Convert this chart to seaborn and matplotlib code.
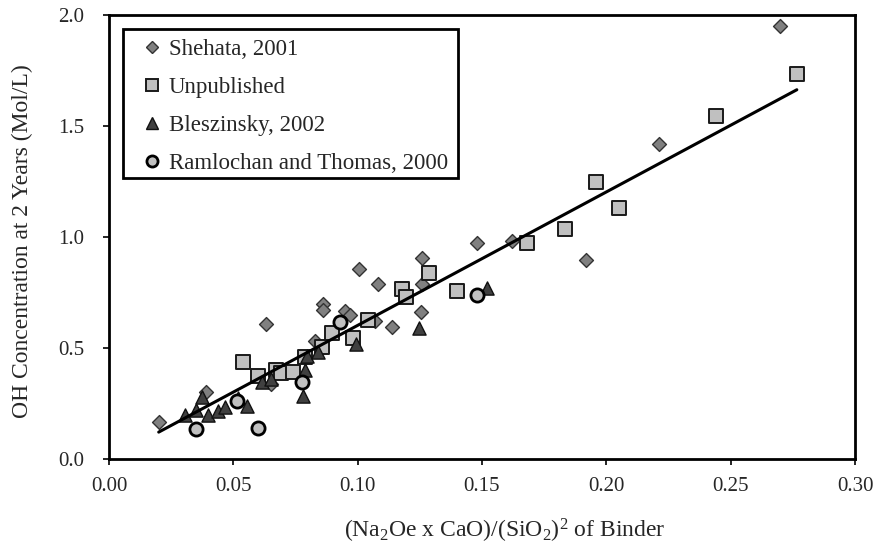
import numpy as np
import pandas as pd
import matplotlib
matplotlib.use("Agg")
import matplotlib.pyplot as plt
from matplotlib.patches import Rectangle
import seaborn as sns

# ---- data ----
shehata_x = [0.020, 0.039, 0.063, 0.065, 0.083, 0.086, 0.086, 0.095, 0.097, 0.1005,
             0.107, 0.108, 0.114, 0.1255, 0.126, 0.126, 0.148, 0.162, 0.192, 0.221, 0.270]
shehata_y = [0.167, 0.30, 0.61, 0.34, 0.53, 0.70, 0.67, 0.667, 0.65, 0.856,
             0.62, 0.79, 0.595, 0.66, 0.79, 0.905, 0.975, 0.98, 0.896, 1.419, 1.95]

unpub_x = [0.054, 0.060, 0.067, 0.069, 0.074, 0.079, 0.0857, 0.0897, 0.098, 0.104,
           0.118, 0.1195, 0.1287, 0.140, 0.168, 0.1833, 0.196, 0.205, 0.244, 0.2766]
unpub_y = [0.437, 0.374, 0.40, 0.387, 0.39, 0.46, 0.505, 0.568, 0.545, 0.626,
           0.766, 0.73, 0.838, 0.757, 0.973, 1.036, 1.248, 1.13, 1.545, 1.734]

blesz_x = [0.0306, 0.035, 0.0374, 0.040, 0.0438, 0.0466, 0.052, 0.0555, 0.0615, 0.065,
           0.078, 0.079, 0.0796, 0.084, 0.0993, 0.1247, 0.152]
blesz_y = [0.20, 0.22, 0.28, 0.198, 0.216, 0.234, 0.275, 0.24, 0.345, 0.36,
           0.285, 0.40, 0.465, 0.48, 0.52, 0.59, 0.77]

ramlo_x = [0.035, 0.0515, 0.060, 0.0776, 0.093, 0.148]
ramlo_y = [0.135, 0.26, 0.14, 0.347, 0.617, 0.739]

# linear trend line shown in the chart (y = slope * x + intercept)
fit_slope = 6.01
fit_intercept = 0.001

series_names = ["Shehata, 2001", "Unpublished", "Bleszinsky, 2002", "Ramlochan and Thomas, 2000"]
x_ticks = [0.00, 0.05, 0.10, 0.15, 0.20, 0.25, 0.30]
y_ticks = [0.0, 0.5, 1.0, 1.5, 2.0]

# ---- style ----
sns.set_theme(style="white")
plt.rcParams['font.family'] = ['Liberation Serif', 'DejaVu Serif']
plt.rcParams['mathtext.fontset'] = 'custom'
plt.rcParams['mathtext.rm'] = 'Liberation Serif'
plt.rcParams['mathtext.default'] = 'regular'

fig = plt.figure(figsize=(8.81, 5.46), dpi=100)
ax = fig.add_axes([0.1237, 0.1593, 0.9705 - 0.1237, 0.9725 - 0.1593])

styles = [
    dict(marker="D", s=50, color="#808080", edgecolor="#333333", linewidth=1.0),
    dict(marker="s", s=95, color="#c0c0c0", edgecolor="#1a1a1a", linewidth=1.4),
    dict(marker="^", s=90, color="#404040", edgecolor="#111111", linewidth=1.0),
    dict(marker="o", s=90, color="#c0c0c0", edgecolor="#000000", linewidth=2.0),
]
data = [(shehata_x, shehata_y), (unpub_x, unpub_y), (blesz_x, blesz_y), (ramlo_x, ramlo_y)]
leg_sizes = [6.0, 8.5, 8.5, 8.0]

handles = []
for name, (xs, ys), st, ms in zip(series_names, data, styles, leg_sizes):
    df = pd.DataFrame({"x": xs, "y": ys})
    sns.scatterplot(data=df, x="x", y="y", ax=ax, zorder=3, legend=False, **st)
    h = plt.Line2D([], [], linestyle="none", marker=st["marker"], markersize=ms,
                   markerfacecolor=st["color"], markeredgecolor=st["edgecolor"],
                   markeredgewidth=st["linewidth"])
    handles.append(h)

all_x = np.array(shehata_x + unpub_x + blesz_x + ramlo_x)
fit_x = np.array([all_x.min(), all_x.max()])
fit_df = pd.DataFrame({"x": fit_x, "y": fit_slope * fit_x + fit_intercept})
sns.lineplot(data=fit_df, x="x", y="y", ax=ax, color="black", linewidth=2.2, zorder=4)

ax.set_xlim(0, 0.30)
ax.set_ylim(0, 2.0)
ax.set_xticks(x_ticks)
ax.set_yticks(y_ticks)
ax.set_xticklabels([f"{v:.2f}" for v in x_ticks], fontsize=15)
ax.set_yticklabels([f"{v:.1f}" for v in y_ticks], fontsize=15)
ax.tick_params(axis="both", direction="out", length=4, width=1.2, color="black",
               bottom=True, left=True)
ax.tick_params(axis="x", pad=9)
ax.tick_params(axis="y", pad=14)
for sp in ax.spines.values():
    sp.set_visible(True)
    sp.set_color("black")
    sp.set_linewidth(2.0)

ax.set_xlabel(r"(Na$_2$Oe x CaO)/(SiO$_2$)$^2$ of Binder", fontsize=17)
ax.set_ylabel("OH Concentration at 2 Years (Mol/L)", fontsize=17)
ax.xaxis.set_label_coords(0.53, -0.13)
ax.yaxis.set_label_coords(-0.102, 0.49)

# legend frame drawn as a rectangle, entries placed inside without their own frame
ax.add_patch(Rectangle((0.0188, 0.633), 0.468 - 0.0188, 0.968 - 0.633,
                       transform=ax.transAxes, facecolor="white", edgecolor="black",
                       linewidth=2.0, zorder=5))
leg = ax.legend(handles, series_names, loc="upper left", bbox_to_anchor=(0.0422, 0.946),
                fontsize=16.5, frameon=False, handlelength=1.0, handletextpad=0.24,
                labelspacing=0.74, borderpad=0, borderaxespad=0)
leg.set_zorder(6)

fig.savefig("out.png", dpi=100)
